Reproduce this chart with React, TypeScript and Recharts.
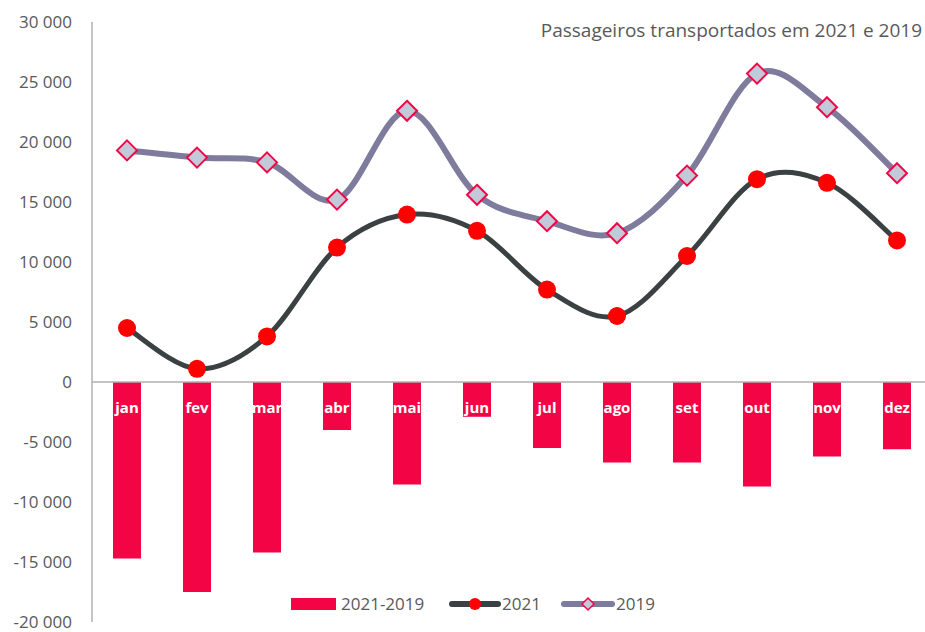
import React from 'react';
import { ComposedChart, Bar, Line, XAxis, YAxis, ReferenceLine, LabelList } from 'recharts';

const months = ['jan', 'fev', 'mar', 'abr', 'mai', 'jun', 'jul', 'ago', 'set', 'out', 'nov', 'dez'];
const pax2021 = [4500, 1100, 3800, 11200, 13950, 12600, 7700, 5500, 10500, 16900, 16600, 11800];
const pax2019 = [19300, 18700, 18300, 15200, 22600, 15600, 13400, 12400, 17200, 25700, 22900, 17400];
const diff = [-14700, -17500, -14200, -4000, -8550, -2900, -5500, -6700, -6700, -8700, -6200, -5600];
const yTicks = [-20000, -15000, -10000, -5000, 0, 5000, 10000, 15000, 20000, 25000, 30000];

const data = months.map((m, i) => ({ month: m, diff: diff[i], y2021: pax2021[i], y2019: pax2019[i] }));

const FONT = '"Open Sans", "Noto Sans", sans-serif';
const TEXT = '#595959';
const RED = '#f30545';

// Excel-like smoothed line (Catmull-Rom through the points)
const smoothCurve: any = (context: any) => {
  let pts: number[][] = [];
  return {
    areaStart() {},
    areaEnd() {},
    lineStart() {
      pts = [];
    },
    point(x: number, y: number) {
      pts.push([x, y]);
    },
    lineEnd() {
      if (!pts.length) return;
      context.moveTo(pts[0][0], pts[0][1]);
      for (let i = 0; i < pts.length - 1; i++) {
        const p0 = pts[i - 1] || pts[i];
        const p1 = pts[i];
        const p2 = pts[i + 1];
        const p3 = pts[i + 2] || p2;
        context.bezierCurveTo(
          p1[0] + (p2[0] - p0[0]) / 6,
          p1[1] + (p2[1] - p0[1]) / 6,
          p2[0] - (p3[0] - p1[0]) / 6,
          p2[1] - (p3[1] - p1[1]) / 6,
          p2[0],
          p2[1]
        );
      }
    },
  };
};

const fmt = (v: number) => {
  if (v === 0) return '0';
  return `${v < 0 ? '-' : ''}${Math.abs(v) / 1000} 000`;
};

const Diamond = (props: any) => {
  const { cx, cy } = props;
  if (cx == null || cy == null) return null;
  const r = 10;
  return (
    <polygon
      points={`${cx},${cy - r} ${cx + r},${cy} ${cx},${cy + r} ${cx - r},${cy}`}
      fill="#c2c9d9"
      stroke={RED}
      strokeWidth={2}
    />
  );
};

const MonthLabel = (props: any) => {
  const { x, y, width, height, value } = props;
  const top = Math.min(y, y + height);
  return (
    <text x={x + width / 2} y={top + 31} textAnchor="middle" fill="#ffffff" fontFamily={FONT} fontWeight={700} fontSize={15}>
      {value}
    </text>
  );
};

const legendText: React.CSSProperties = { position: 'absolute', top: 592, fontFamily: FONT, fontSize: 17, color: TEXT, lineHeight: '24px' };

const LegendBox = () => (
  <>
    <div style={{ position: 'absolute', left: 291, top: 598, width: 45, height: 12, background: RED }} />
    <div style={{ ...legendText, left: 341 }}>2021-2019</div>
    <svg width={54} height={16} style={{ position: 'absolute', left: 448, top: 596 }}>
      <line x1={4} y1={8} x2={50} y2={8} stroke="#3b4142" strokeWidth={6} strokeLinecap="round" />
      <circle cx={27} cy={8} r={6} fill="#ff0000" />
    </svg>
    <div style={{ ...legendText, left: 502 }}>2021</div>
    <svg width={56} height={16} style={{ position: 'absolute', left: 560, top: 596 }}>
      <line x1={4} y1={8} x2={52} y2={8} stroke="#7f7b9c" strokeWidth={6} strokeLinecap="round" />
      <polygon points="28,2 34,8 28,14 22,8" fill="#c2c9d9" stroke={RED} strokeWidth={1.5} />
    </svg>
    <div style={{ ...legendText, left: 616 }}>2019</div>
  </>
);

export default function App() {
  return (
    <div style={{ position: 'absolute', left: 0, top: 0, width: 925, height: 632, overflow: 'hidden', background: '#fff' }}>
      <ComposedChart width={940} height={632} data={data} margin={{ top: 22, right: 8, bottom: 10, left: 0 }}>
        <XAxis dataKey="month" hide />
        <YAxis
          width={92}
          domain={[-20000, 30000]}
          ticks={yTicks}
          interval={0}
          tickFormatter={fmt}
          tickLine={false}
          tickSize={0}
          tickMargin={20}
          axisLine={{ stroke: '#b0b0b0', strokeWidth: 1.5 }}
          tick={{ fill: TEXT, fontFamily: FONT, fontSize: 17 }}
        />
        <ReferenceLine y={0} stroke="#b0b0b0" strokeWidth={1.5} />
        <Bar dataKey="diff" name="2021-2019" fill={RED} barSize={28} isAnimationActive={false}>
          <LabelList dataKey="month" content={<MonthLabel />} />
        </Bar>
        <Line
          dataKey="y2021"
          name="2021"
          type={smoothCurve}
          stroke="#3b4142"
          strokeWidth={5}
          dot={{ r: 9, fill: '#ff0000', stroke: 'none' }}
          activeDot={false}
          isAnimationActive={false}
        />
        <Line
          dataKey="y2019"
          name="2019"
          type={smoothCurve}
          stroke="#7f7b9c"
          strokeWidth={6}
          dot={<Diamond />}
          activeDot={false}
          isAnimationActive={false}
        />
      </ComposedChart>
      <LegendBox />
      <div style={{ position: 'absolute', right: 3, top: 17, fontFamily: FONT, fontSize: 19, color: TEXT }}>
        Passageiros transportados em 2021 e 2019
      </div>
    </div>
  );
}
